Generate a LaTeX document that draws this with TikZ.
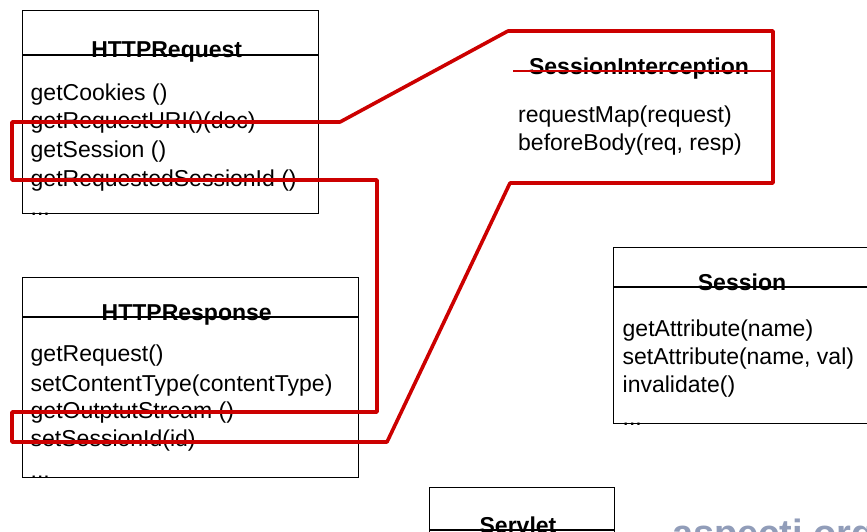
\documentclass[tikz,border=0pt]{standalone}
\usepackage{fontspec}
\setmainfont{Liberation Sans}
\definecolor{hired}{RGB}{204,0,0}
\definecolor{markgray}{RGB}{118,132,168}
\begin{document}
\begin{tikzpicture}[x=1pt,y=-1pt,
  classbox/.style={draw=black, line width=1.4pt, inner sep=0pt, anchor=north west},
  sep/.style={draw=black, line width=1.4pt},
  classtitle/.style={font=\fontsize{23}{28}\selectfont\bfseries, anchor=base, inner sep=0pt},
  member/.style={font=\fontsize{23}{28}\selectfont, anchor=base west, inner sep=0pt},
  hilite/.style={draw=hired, line width=3.6pt, line join=round, line cap=round},
  thinhilite/.style={draw=hired, line width=1.6pt},
]
\useasboundingbox (0,0) rectangle (867,531);
\clip (0,0) rectangle (867,531);

% ---------- HTTPRequest ----------
\node[classbox, minimum width=296pt, minimum height=203pt] (req) at (22,10) {};
\begin{scope}
  \clip (req.north west) rectangle (req.south east);
  \node[member] (req-m1) at (30.5,100) {getCookies ()};
  \node[member] (req-m2) at (30.5,128.5) {getRequestURI()(doc)};
  \node[member] (req-m3) at (30.5,157.5) {getSession ()};
  \node[member] (req-m4) at (30.5,186.5) {getRequestedSessionId ()};
  \node[member] (req-m5) at (30.5,215) {...};
\end{scope}
\draw[sep] ([yshift=-45pt]req.north west) -- ([yshift=-45pt]req.north east);
\node[classtitle] (req-title) at ([xshift=-4pt,yshift=-47pt]req.north) {HTTPRequest};

% ---------- HTTPResponse ----------
\node[classbox, minimum width=336pt, minimum height=200pt] (resp) at (22,277) {};
\begin{scope}
  \clip (resp.north west) rectangle (resp.south east);
  \node[member] (resp-m1) at (30.5,361.5) {getRequest()};
  \node[member] (resp-m2) at (30.5,391.5) {setContentType(contentType)};
  \node[member] (resp-m3) at (30.5,418.5) {getOutptutStream ()};
  \node[member] (resp-m4) at (30.5,446.5) {setSessionId(id)};
  \node[member] (resp-m5) at (30.5,478) {...};
\end{scope}
\draw[sep] ([yshift=-40pt]resp.north west) -- ([yshift=-40pt]resp.north east);
\node[classtitle] (resp-title) at ([xshift=-4pt,yshift=-43pt]resp.north) {HTTPResponse};

% ---------- Session ----------
\node[classbox, minimum width=262pt, minimum height=176pt] (sess) at (613,247) {};
\begin{scope}
  \clip (sess.north west) rectangle (sess.south east);
  \node[member] (sess-m1) at (622.5,336) {getAttribute(name)};
  \node[member] (sess-m2) at (622.5,364) {setAttribute(name, val)};
  \node[member] (sess-m3) at (622.5,392) {invalidate()};
  \node[member] (sess-m4) at (622.5,425) {...};
\end{scope}
\draw[sep] ([yshift=-40pt]sess.north west) -- ([yshift=-40pt]sess.north east);
\node[classtitle] (sess-title) at (742,290) {Session};

% ---------- Servlet ----------
\node[classbox, minimum width=185pt, minimum height=120pt] (serv) at (429,487) {};
\draw[sep] ([yshift=-43pt]serv.north west) -- ([yshift=-43pt]serv.north east);
\node[classtitle] (serv-title) at (518,533) {Servlet};

% ---------- SessionInterception (outlined by the highlight) ----------
\node[classtitle] (si-title) at (639,74) {SessionInterception};
\node[member] (si-m1) at (518,122.5) {requestMap(request)};
\node[member] (si-m2) at (518,150.5) {beforeBody(req, resp)};
\coordinate (si-sepl) at (513,71);
\coordinate (si-sepr) at (773,71);
\draw[thinhilite] (si-sepl) -- (si-sepr);

% ---------- highlight outline linking the members ----------
\coordinate (h1) at (12,122);
\coordinate (h2) at (340,122);
\coordinate (h3) at (508,31);
\coordinate (h4) at (773,31);
\coordinate (h5) at (773,183);
\coordinate (h6) at (510,183);
\coordinate (h7) at (387,442);
\coordinate (h8) at (12,442);
\coordinate (h9) at (12,412);
\coordinate (h10) at (377,412);
\coordinate (h11) at (377,180);
\coordinate (h12) at (12,180);
\draw[hilite] (h1) -- (h2) -- (h3) -- (h4) -- (h5) -- (h6) -- (h7) -- (h8)
  -- (h9) -- (h10) -- (h11) -- (h12) -- cycle;

% ---------- site mark ----------
\node[font=\fontsize{38}{38}\selectfont\bfseries, text=markgray, anchor=base west,
  inner sep=0pt, opacity=0.8] (mark) at (672,546) {aspectj.org};
\end{tikzpicture}
\end{document}
